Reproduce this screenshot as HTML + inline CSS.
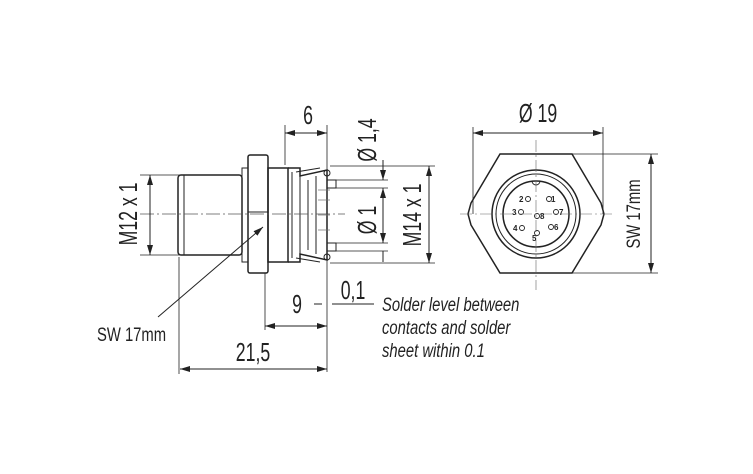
<!DOCTYPE html>
<html><head><style>
body{margin:0;background:#fff}
svg{display:block}
text{font-family:"Liberation Sans",sans-serif;fill:#222}
</style></head><body>
<svg width="753" height="474" viewBox="0 0 753 474" xmlns="http://www.w3.org/2000/svg">
<defs>
<marker id="a" viewBox="0 0 10 6" refX="10" refY="3" markerWidth="10" markerHeight="6" orient="auto-start-reverse" markerUnits="userSpaceOnUse"><path d="M0,0L10,3L0,6z" fill="#222"/></marker>
</defs>
<g stroke="#222" fill="none" stroke-width="1">
<rect x="178" y="175" width="64" height="80" rx="3" stroke-width="1.5"/>
<line x1="184" y1="175" x2="184" y2="255"/>
<rect x="242" y="168" width="6" height="94"/>
<rect x="248" y="155" width="20" height="118" rx="2" stroke-width="1.5"/>
<line x1="248" y1="212" x2="268" y2="212"/>
<rect x="268" y="168" width="20" height="94" stroke-width="1.5"/>
<path d="M288,168 L300,168 L300,176 L327,170 L327,260 L300,254 L300,262 L288,262" stroke-width="1.5"/>
<path d="M292,172 L292,258 M300,176 L300,254 M308,180 L308,250 M316,176 L316,254"/>
<path d="M296,172 L320,168 M296,258 L320,262"/>
<g stroke="#999"><line x1="318" y1="190" x2="330" y2="190"/><line x1="318" y1="200" x2="330" y2="200"/><line x1="318" y1="215" x2="330" y2="215"/><line x1="318" y1="230" x2="330" y2="230"/></g>
<rect x="327" y="180" width="9" height="8"/>
<rect x="327" y="243" width="9" height="8"/>
<circle cx="327" cy="173" r="3"/><circle cx="327" cy="257" r="3"/>
<line x1="140" y1="214" x2="345" y2="214" stroke="#555" stroke-width="0.7" stroke-dasharray="14,3,2,3"/>
<line x1="285" y1="125" x2="285" y2="165" stroke-width="0.8"/>
<line x1="327" y1="125" x2="327" y2="372" stroke-width="0.8"/>
<line x1="330" y1="166" x2="435" y2="166" stroke-width="0.8"/>
<line x1="330" y1="263" x2="435" y2="263" stroke-width="0.8"/>
<line x1="336" y1="180" x2="388" y2="180" stroke-width="0.8"/>
<line x1="336" y1="188" x2="388" y2="188" stroke-width="0.8"/>
<line x1="336" y1="243" x2="388" y2="243" stroke-width="0.8"/>
<line x1="336" y1="251" x2="388" y2="251" stroke-width="0.8"/>
<line x1="140" y1="175" x2="180" y2="175" stroke-width="0.8"/>
<line x1="140" y1="255" x2="180" y2="255" stroke-width="0.8"/>
<line x1="179" y1="257" x2="179" y2="374" stroke-width="0.8"/>
<line x1="265" y1="273" x2="265" y2="330" stroke-width="0.8"/>
<line x1="285" y1="133" x2="327" y2="133" marker-start="url(#a)" marker-end="url(#a)"/>
<line x1="383" y1="160" x2="383" y2="180" marker-end="url(#a)"/>
<line x1="383" y1="188" x2="383" y2="243" marker-start="url(#a)" marker-end="url(#a)"/>
<line x1="383" y1="251" x2="383" y2="262"/>
<line x1="429" y1="166" x2="429" y2="263" marker-start="url(#a)" marker-end="url(#a)"/>
<line x1="150" y1="175" x2="150" y2="255" marker-start="url(#a)" marker-end="url(#a)"/>
<line x1="265" y1="326" x2="327" y2="326" marker-start="url(#a)" marker-end="url(#a)"/>
<line x1="180" y1="369" x2="327" y2="369" marker-start="url(#a)" marker-end="url(#a)"/>
<line x1="314" y1="304" x2="322" y2="304"/>
<line x1="332" y1="304" x2="374" y2="304"/>
<line x1="158" y1="317" x2="263" y2="227" marker-end="url(#a)"/>
<polygon points="500,154 572,154 601,203 604,214 601,225 572,273 500,273 471,225 468,214 471,203" stroke-width="1.5"/>
<circle cx="536" cy="214" r="44" stroke-width="1.5"/>
<circle cx="536" cy="214" r="40"/>
<circle cx="536" cy="214" r="33" stroke-width="1.5"/>
<path d="M532,181 A4,4 0 0 0 540,181"/>
<g stroke-width="0.9"><circle cx="549" cy="199" r="2.5"/><circle cx="528" cy="199" r="2.5"/><circle cx="521" cy="212" r="2.5"/><circle cx="537" cy="216" r="2.5"/><circle cx="556" cy="212" r="2.5"/><circle cx="522" cy="228" r="2.5"/><circle cx="551" cy="227" r="2.5"/><circle cx="537" cy="233" r="2.5"/></g>
<line x1="536" y1="140" x2="536" y2="290" stroke="#666" stroke-width="0.6" stroke-dasharray="12,3,2,3"/>
<line x1="460" y1="214" x2="615" y2="214" stroke="#666" stroke-width="0.6" stroke-dasharray="12,3,2,3"/>
<line x1="473" y1="127" x2="473" y2="214" stroke-width="0.8"/>
<line x1="603" y1="127" x2="603" y2="214" stroke-width="0.8"/>
<line x1="473" y1="133" x2="603" y2="133" marker-start="url(#a)" marker-end="url(#a)"/>
<line x1="572" y1="154" x2="658" y2="154" stroke-width="0.8"/>
<line x1="572" y1="273" x2="658" y2="273" stroke-width="0.8"/>
<line x1="651" y1="154" x2="651" y2="273" marker-start="url(#a)" marker-end="url(#a)"/>
</g>
<g font-size="8" font-weight="bold">
<text x="551" y="202">1</text><text x="519" y="202">2</text><text x="512" y="215">3</text><text x="540" y="219">8</text><text x="559" y="215">7</text><text x="513" y="231">4</text><text x="554" y="230">6</text><text x="532" y="241">5</text>
</g>
<g font-size="26" text-anchor="middle">
<text transform="translate(308,124) scale(0.68,1)">6</text>
<text transform="translate(538,122) scale(0.68,1)">Ø 19</text>
<text transform="translate(297,313) scale(0.68,1)">9</text>
<text transform="translate(353,299) scale(0.68,1)">0,1</text>
<text transform="translate(253,361) scale(0.68,1)">21,5</text>
<text transform="translate(137,214) rotate(-90) scale(0.68,1)">M12 x 1</text>
<text transform="translate(376,140) rotate(-90) scale(0.68,1)">Ø 1,4</text>
<text transform="translate(376,220) rotate(-90) scale(0.68,1)">Ø 1</text>
<text transform="translate(421,215) rotate(-90) scale(0.68,1)">M14 x 1</text>
</g>
<g font-size="19">
<text transform="translate(97,341) scale(0.78,1)">SW 17mm</text>
<text transform="translate(640,214) rotate(-90) scale(0.78,1)" text-anchor="middle">SW 17mm</text>
</g>
<g font-size="19" font-style="italic">
<text transform="translate(382,311) scale(0.78,1)">Solder level between</text>
<text transform="translate(382,334) scale(0.78,1)">contacts and solder</text>
<text transform="translate(382,357) scale(0.78,1)">sheet within 0.1</text>
</g>
</svg>
</body></html>
